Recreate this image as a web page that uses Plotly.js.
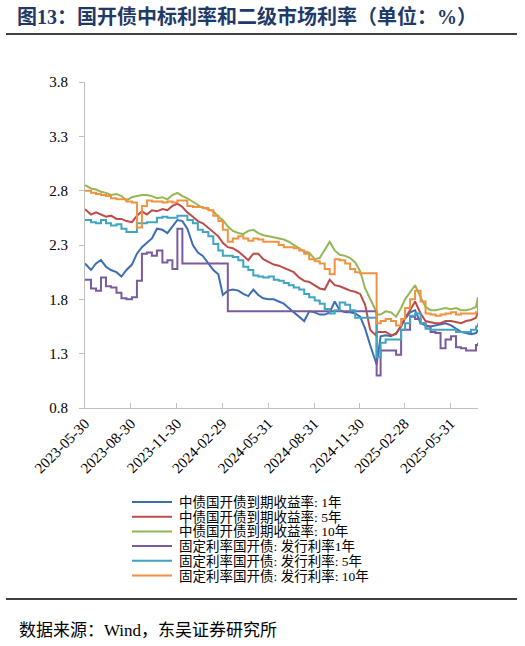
<!DOCTYPE html>
<html>
<head>
<meta charset="utf-8">
<script src="https://cdn.plot.ly/plotly-3.0.1.min.js"></script>
<style>
  body { margin: 0; background: #fff; }
  #chart { width: 525px; height: 646px; }
</style>
</head>
<body>
<div id="chart"></div>
<script>
// Дати спостережень (приблизно кожні 10 днів).
const dates = [
    "2023-05-30", "2023-06-11", "2023-06-21", "2023-07-01", "2023-07-11", "2023-07-21",
    "2023-08-01", "2023-08-11", "2023-08-21", "2023-09-01", "2023-09-11", "2023-09-21",
    "2023-10-01", "2023-10-11", "2023-10-21", "2023-11-01", "2023-11-11", "2023-11-21",
    "2023-12-01", "2023-12-11", "2023-12-21",
    "2024-01-01", "2024-01-11", "2024-01-21", "2024-02-01", "2024-02-11", "2024-02-21",
    "2024-03-01", "2024-03-11", "2024-03-21", "2024-04-01", "2024-04-11", "2024-04-21",
    "2024-05-01", "2024-05-11", "2024-05-21", "2024-06-01", "2024-06-11", "2024-06-21",
    "2024-07-01", "2024-07-11", "2024-07-21", "2024-08-01", "2024-08-11", "2024-08-21",
    "2024-09-01", "2024-09-11", "2024-09-21", "2024-10-01", "2024-10-11", "2024-10-21",
    "2024-11-01", "2024-11-11", "2024-11-21", "2024-12-01", "2024-12-11", "2024-12-21",
    "2025-01-01", "2025-01-03", "2025-01-11", "2025-01-21", "2025-02-01", "2025-02-11",
    "2025-02-21", "2025-03-01", "2025-03-11", "2025-03-21", "2025-04-01", "2025-04-11",
    "2025-04-21", "2025-05-01", "2025-05-11", "2025-05-21", "2025-06-01", "2025-06-11",
    "2025-06-21", "2025-07-01", "2025-07-11", "2025-07-21", "2025-07-25",
];

// Підписи осі X.
const tickDates = [
    "2023-05-30", "2023-08-30", "2023-11-30", "2024-02-29", "2024-05-31",
    "2024-08-31", "2024-11-30", "2025-02-28", "2025-05-31",
];

// Назви рядів (як у легенді).
const names = [
    "中债国开债到期收益率: 1年",
    "中债国开债到期收益率: 5年",
    "中债国开债到期收益率: 10年",
    "固定利率国开债: 发行利率1年",
    "固定利率国开债: 发行利率: 5年",
    "固定利率国开债: 发行利率: 10年",
];

// Дохідність на вторинному ринку.
const yield1y = [
    2.13, 2.07, 2.13, 2.16, 2.10, 2.07, 2.05, 2.01, 2.07, 2.12, 2.22, 2.28, 2.32, 2.36, 2.45, 2.44, 2.41, 2.47, 2.53, 2.52, 2.45,
    2.30, 2.23, 2.20, 2.13, 2.07, 2.03, 1.84, 1.88, 1.89, 1.88, 1.85, 1.83, 1.89, 1.84, 1.81, 1.80, 1.80, 1.78,
    1.76, 1.72, 1.68, 1.64, 1.60, 1.69, 1.68, 1.66, 1.66, 1.68, 1.78, 1.70, 1.68, 1.68, 1.67, 1.64, 1.53, 1.38,
    1.22, 1.20, 1.46, 1.47, 1.46, 1.49, 1.55, 1.62, 1.68, 1.70, 1.58, 1.56, 1.55, 1.56, 1.57, 1.58, 1.56, 1.53,
    1.50, 1.49, 1.48, 1.49, 1.52,
];
const yield5y = [
    2.63, 2.58, 2.60, 2.58, 2.56, 2.57, 2.54, 2.54, 2.52, 2.51, 2.57, 2.61, 2.58, 2.62, 2.61, 2.63, 2.62, 2.66, 2.68, 2.65, 2.60,
    2.56, 2.52, 2.50, 2.46, 2.42, 2.38, 2.32, 2.28, 2.27, 2.24, 2.20, 2.16, 2.22, 2.22, 2.17, 2.14, 2.12, 2.11,
    2.09, 2.07, 2.05, 2.00, 1.97, 1.96, 1.93, 1.90, 1.89, 1.98, 1.93, 1.92, 1.90, 1.88, 1.87, 1.85, 1.75, 1.52,
    1.47, 1.50, 1.50, 1.50, 1.47, 1.48, 1.56, 1.63, 1.70, 1.78, 1.67, 1.60, 1.59, 1.58, 1.58, 1.60, 1.60, 1.59,
    1.58, 1.60, 1.61, 1.63, 1.69,
];
const yield10y = [
    2.85, 2.82, 2.81, 2.79, 2.78, 2.76, 2.77, 2.75, 2.71, 2.74, 2.75, 2.76, 2.76, 2.75, 2.73, 2.74, 2.72, 2.76, 2.78, 2.75, 2.73,
    2.70, 2.67, 2.64, 2.63, 2.61, 2.56, 2.53, 2.47, 2.43, 2.41, 2.40, 2.43, 2.44, 2.41, 2.39, 2.38, 2.37, 2.36,
    2.35, 2.33, 2.30, 2.27, 2.24, 2.23, 2.17, 2.18, 2.25, 2.33, 2.25, 2.21, 2.20, 2.18, 2.14, 2.06, 1.90, 1.80,
    1.70, 1.66, 1.66, 1.69, 1.68, 1.64, 1.72, 1.80, 1.86, 1.93, 1.82, 1.73, 1.70, 1.70, 1.71, 1.72, 1.71, 1.72,
    1.70, 1.70, 1.71, 1.73, 1.82,
];

// Ставки розміщення (ступінчасті ряди).
const issue1y = [
    1.98, 1.90, 1.88, 2.00, 1.92, 1.91, 1.86, 1.81, 1.80, 1.82, 1.97, 2.22, 2.23, 2.20, 2.25, 2.14, 2.16, 2.08, 2.45, 2.13, 2.13,
    2.13, 2.13, 2.13, 2.13, 2.13, 2.13, 2.13, 1.69, 1.69, 1.69, 1.69, 1.69, 1.69, 1.69, 1.69, 1.69, 1.69, 1.69,
    1.69, 1.69, 1.69, 1.69, 1.69, 1.69, 1.69, 1.69, 1.69, 1.69, 1.69, 1.69, 1.69, 1.69, 1.69, 1.69, 1.69, 1.69,
    1.69, 1.10, 1.33, 1.33, 1.33, 1.29, 1.52, 1.52, 1.64, 1.62, 1.58, 1.55, 1.50, 1.49, 1.35, 1.43, 1.46, 1.36,
    1.35, 1.33, 1.33, 1.38, 1.40,
];
const issue5y = [
    2.53, 2.51, 2.50, 2.53, 2.50, 2.48, 2.49, 2.45, 2.42, 2.42, 2.50, 2.50, 2.51, 2.51, 2.55, 2.56, 2.55, 2.55, 2.57, 2.57, 2.53,
    2.50, 2.44, 2.42, 2.38, 2.31, 2.25, 2.20, 2.20, 2.19, 2.16, 2.10, 2.07, 2.02, 2.01, 2.00, 2.01, 1.98, 1.97,
    1.95, 1.93, 1.91, 1.89, 1.85, 1.82, 1.79, 1.76, 1.71, 1.67, 1.70, 1.77, 1.75, 1.70, 1.63, 1.63, 1.63, 1.63,
    1.63, 1.27, 1.40, 1.43, 1.43, 1.43, 1.52, 1.58, 1.65, 1.67, 1.58, 1.53, 1.52, 1.52, 1.52, 1.52, 1.52, 1.50,
    1.50, 1.50, 1.52, 1.55, 1.58,
];
const issue10y = [
    2.80, 2.78, 2.77, 2.76, 2.75, 2.73, 2.72, 2.72, 2.70, 2.69, 2.46, 2.66, 2.71, 2.70, 2.70, 2.69, 2.70, 2.69, 2.71, 2.71, 2.66,
    2.65, 2.65, 2.64, 2.62, 2.57, 2.52, 2.44, 2.33, 2.36, 2.38, 2.36, 2.34, 2.36, 2.35, 2.33, 2.33, 2.33, 2.30,
    2.28, 2.28, 2.27, 2.25, 2.22, 2.17, 2.15, 2.13, 2.08, 2.03, 2.17, 2.16, 2.13, 2.08, 2.05, 2.04, 2.04, 2.04,
    2.04, 1.58, 1.60, 1.62, 1.60, 1.56, 1.62, 1.72, 1.80, 1.88, 1.78, 1.67, 1.66, 1.65, 1.66, 1.67, 1.68, 1.66,
    1.67, 1.67, 1.67, 1.68, 1.78,
];

const series = [yield1y, yield5y, yield10y, issue1y, issue5y, issue10y];
const colors = ["#3D6DB3", "#BE4B48", "#93B756", "#7A5C9E", "#3FA5C0", "#F0923F"];
// Ряди ставок розміщення малюємо сходинками.
const stepped = [false, false, false, true, true, true];

const FONT = "'Liberation Serif', 'Noto Sans CJK SC', serif";

// Розмір сторінки і поля області графіка (у пікселях).
const W = 525, H = 646;
const M = { l: 85, r: 47, t: 82, b: 238 };
const PW = W - M.l - M.r, PH = H - M.t - M.b;
// Перетворення пікселів сторінки у координати paper.
const px = (x) => (x - M.l) / PW;
const py = (y) => (H - M.b - y) / PH;

const traces = series.map((vals, i) => ({
    x: dates,
    y: vals,
    name: names[i],
    type: "scatter",
    mode: "lines",
    line: { color: colors[i], width: 2, shape: stepped[i] ? "hv" : "linear" },
    showlegend: false,
}));

// Легенда вручну: Plotly не дає зменшити відстань між рядками.
const shapes = [
    { type: "line", xref: "paper", yref: "paper", x0: px(6), x1: px(517), y0: py(34), y1: py(34),
      line: { color: "#000", width: 1.5 } },
    { type: "line", xref: "paper", yref: "paper", x0: px(6), x1: px(517), y0: py(599), y1: py(599),
      line: { color: "#000", width: 1.5 } },
];
const annotations = [
    { xref: "paper", yref: "paper", x: px(17), y: py(630), xanchor: "left", yanchor: "middle",
      text: "数据来源：Wind，东吴证券研究所", showarrow: false,
      font: { family: FONT, size: 17, color: "#000" } },
];
names.forEach((name, i) => {
    const rowY = 502 + i * 14.7;
    shapes.push({ type: "line", xref: "paper", yref: "paper",
        x0: px(132), x1: px(172), y0: py(rowY), y1: py(rowY),
        line: { color: colors[i], width: 2 } });
    annotations.push({ xref: "paper", yref: "paper", x: px(177), y: py(rowY),
        xanchor: "left", yanchor: "middle", text: name, showarrow: false,
        font: { family: FONT, size: 13.5, color: "#000" } });
});

const layout = {
    width: W,
    height: H,
    margin: M,
    paper_bgcolor: "#fff",
    plot_bgcolor: "#fff",
    showlegend: false,
    title: {
        text: "<b>图13：国开债中标利率和二级市场利率（单位：%）</b>",
        xref: "container", yref: "container",
        x: 17 / W, xanchor: "left",
        y: 1 - 17 / H, yanchor: "middle",
        font: { family: FONT, size: 20, color: "#1F3A68" },
    },
    xaxis: {
        type: "date",
        range: [dates[0], dates[dates.length - 1]],
        tickvals: tickDates,
        ticktext: tickDates,
        tickangle: -45,
        tickfont: { family: FONT, size: 15, color: "#000" },
        showline: true,
        linecolor: "#BFBFBF",
        linewidth: 1,
        ticks: "inside",
        ticklen: 5,
        tickcolor: "#BFBFBF",
        showgrid: false,
        zeroline: false,
    },
    yaxis: {
        range: [0.8, 3.8],
        tick0: 0.8,
        dtick: 0.5,
        tickformat: ".1f",
        tickfont: { family: FONT, size: 15, color: "#000" },
        showline: true,
        linecolor: "#BFBFBF",
        linewidth: 1,
        ticks: "outside",
        ticklen: 5,
        tickcolor: "#BFBFBF",
        ticklabelstandoff: 8,
        showgrid: false,
        zeroline: false,
    },
    shapes: shapes,
    annotations: annotations,
};

Plotly.newPlot("chart", traces, layout, { displayModeBar: false, staticPlot: true });
</script>
</body>
</html>
